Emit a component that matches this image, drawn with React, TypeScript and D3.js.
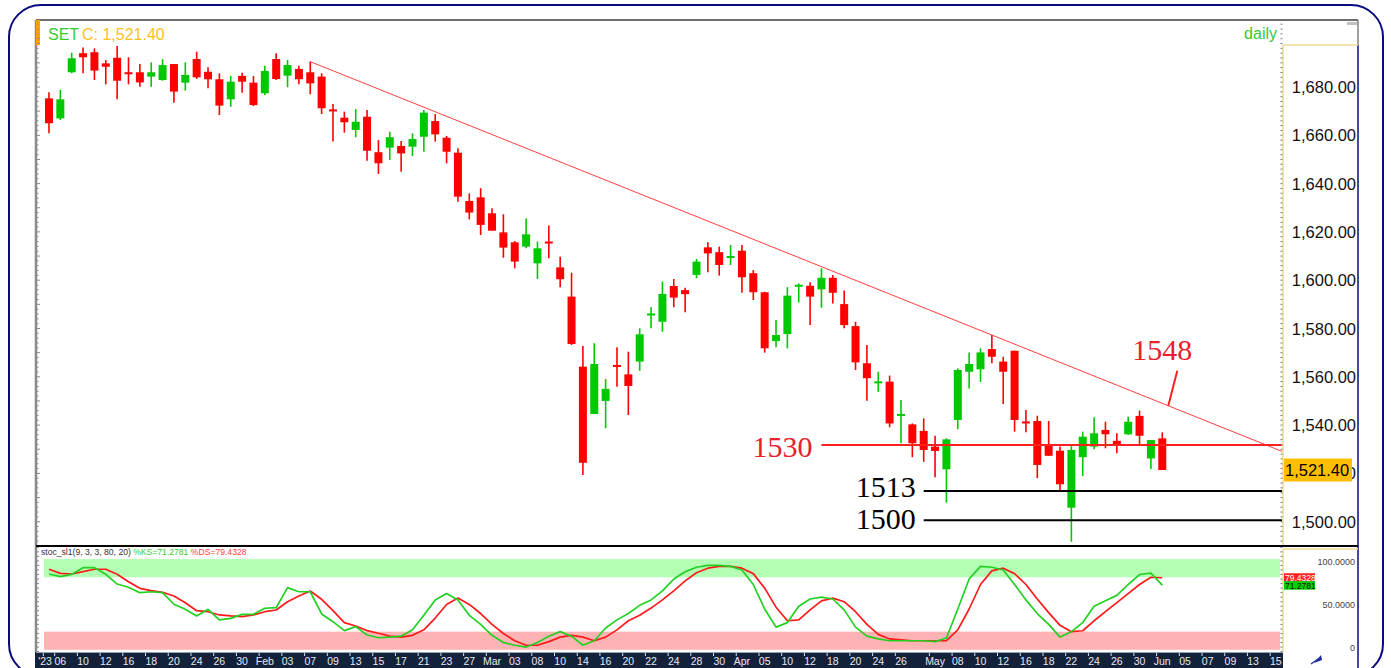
import React from "react";
import * as d3 from "d3";

// ---------- DATA ----------
const tradingDates: string[] = [
  "2023-01-05","2023-01-06","2023-01-09","2023-01-10","2023-01-11","2023-01-12","2023-01-13","2023-01-16","2023-01-17","2023-01-18",
  "2023-01-19","2023-01-20","2023-01-23","2023-01-24","2023-01-25","2023-01-26","2023-01-27","2023-01-30","2023-01-31",
  "2023-02-01","2023-02-02","2023-02-03","2023-02-06","2023-02-07","2023-02-08","2023-02-09","2023-02-10","2023-02-13","2023-02-14",
  "2023-02-15","2023-02-16","2023-02-17","2023-02-20","2023-02-21","2023-02-22","2023-02-23","2023-02-24","2023-02-27","2023-02-28",
  "2023-03-01","2023-03-02","2023-03-03","2023-03-07","2023-03-08","2023-03-09","2023-03-10","2023-03-13","2023-03-14","2023-03-15",
  "2023-03-16","2023-03-17","2023-03-20","2023-03-21","2023-03-22","2023-03-23","2023-03-24","2023-03-27","2023-03-28","2023-03-29",
  "2023-03-30","2023-03-31",
  "2023-04-03","2023-04-04","2023-04-05","2023-04-07","2023-04-10","2023-04-11","2023-04-12","2023-04-17","2023-04-18","2023-04-19",
  "2023-04-20","2023-04-21","2023-04-24","2023-04-25","2023-04-26","2023-04-27","2023-04-28",
  "2023-05-02","2023-05-03","2023-05-08","2023-05-09","2023-05-10","2023-05-11","2023-05-12","2023-05-15","2023-05-16","2023-05-17",
  "2023-05-18","2023-05-19","2023-05-22","2023-05-23","2023-05-24","2023-05-25","2023-05-26","2023-05-29","2023-05-30","2023-05-31",
  "2023-06-01","2023-06-02","2023-06-05","2023-06-06","2023-06-07","2023-06-08","2023-06-09","2023-06-12","2023-06-13","2023-06-14",
  "2023-06-15",
];

const opens: number[] = [
  1675.3,1667.0,1686.1,1694.0,1694.4,1689.8,1692.1,1685.7,1686.1,1684.3,
  1682.9,1689.5,1681.8,1691.6,1686.3,1683.2,1674.9,1684.6,1681.8,1677.4,
  1691.6,1684.7,1687.5,1686.1,1684.3,1670.3,1667.3,1662.2,1667.7,1653.0,
  1654.9,1655.6,1655.3,1659.4,1665.9,1659.0,1652.8,1632.8,1634.3,1627.7,
  1619.8,1615.7,1613.9,1607.0,1615.6,1605.3,1593.2,1564.2,1544.6,1550.0,
  1564.5,1561.0,1566.3,1585.6,1582.8,1597.6,1595.9,1602.2,1613.6,1611.6,
  1609.4,1612.2,1602.9,1595.0,1574.8,1577.7,1597.5,1597.7,1596.2,1601.0,
  1590.1,1581.0,1565.6,1557.5,1558.0,1544.0,1540.3,1537.6,1531.1,1521.7,
  1542.1,1562.1,1563.1,1571.5,1566.3,1570.8,1541.1,1541.7,1531.8,1529.4,
  1505.8,1526.7,1531.1,1538.0,1533.5,1536.2,1543.8,1526.2,1534.5,
];
const highs: number[] = [
  1677.8,1678.8,1694.2,1696.4,1696.0,1691.2,1697.0,1692.3,1689.5,1690.2,
  1691.5,1689.5,1690.2,1694.6,1688.2,1685.7,1684.6,1685.9,1684.6,1688.8,
  1694.0,1691.2,1688.8,1690.5,1685.7,1673.0,1669.8,1670.9,1670.5,1658.1,
  1661.5,1657.6,1660.8,1670.5,1668.8,1659.7,1654.6,1636.0,1638.1,1629.8,
  1627.3,1616.2,1625.6,1616.0,1622.6,1609.7,1603.1,1572.8,1573.9,1559.1,
  1572.2,1570.4,1580.1,1588.8,1599.4,1600.5,1596.9,1608.8,1615.7,1613.9,
  1614.6,1614.6,1604.2,1595.2,1583.5,1597.1,1598.7,1599.1,1604.9,1602.2,
  1595.7,1582.8,1573.2,1562.1,1560.5,1550.4,1540.7,1542.8,1535.6,1534.5,
  1563.5,1570.1,1571.8,1577.3,1568.3,1570.8,1546.3,1543.9,1541.7,1531.1,
  1531.3,1537.3,1543.2,1541.4,1536.6,1543.5,1546.0,1533.8,1537.0,
];
const lows: number[] = [
  1660.8,1666.3,1685.7,1685.7,1682.9,1681.1,1674.9,1681.1,1680.1,1680.1,
  1682.6,1673.5,1678.5,1683.3,1679.5,1668.4,1671.8,1677.6,1672.1,1676.7,
  1682.9,1679.9,1681.1,1677.0,1668.8,1657.4,1661.1,1659.2,1649.5,1644.0,
  1649.8,1644.9,1651.4,1653.2,1657.4,1648.4,1632.5,1625.2,1618.7,1620.5,
  1609.3,1604.9,1613.2,1600.5,1609.1,1597.1,1573.2,1519.3,1544.6,1538.7,
  1555.9,1544.2,1562.5,1580.1,1578.7,1588.8,1586.7,1600.8,1603.3,1601.9,
  1606.3,1594.8,1591.8,1570.0,1572.2,1571.8,1590.8,1581.4,1588.6,1590.4,
  1580.1,1562.8,1550.1,1553.8,1539.1,1532.5,1526.7,1524.8,1518.4,1507.9,
  1538.3,1555.2,1557.9,1565.6,1548.7,1537.3,1537.0,1518.0,1527.3,1513.1,
  1491.7,1518.9,1530.0,1530.4,1528.3,1535.9,1532.0,1521.8,1521.4,
];
const closes: number[] = [
  1665.0,1674.9,1691.9,1692.3,1686.8,1688.4,1682.6,1685.5,1681.9,1686.1,
  1689.1,1678.1,1685.0,1684.0,1683.2,1672.3,1682.2,1682.2,1672.5,1686.6,
  1683.3,1689.1,1683.2,1681.5,1671.2,1670.1,1665.4,1665.6,1653.6,1648.4,
  1659.2,1652.5,1658.5,1669.4,1660.4,1653.2,1634.6,1628.0,1622.9,1620.5,
  1613.5,1607.7,1619.0,1613.2,1615.4,1600.4,1573.6,1524.4,1565.3,1555.0,
  1564.3,1556.2,1577.6,1585.8,1594.3,1592.8,1594.2,1607.7,1611.1,1606.3,
  1609.6,1601.2,1595.0,1571.8,1577.3,1593.6,1597.7,1593.2,1601.0,1594.8,
  1581.4,1566.0,1559.4,1557.7,1540.7,1544.2,1532.5,1529.7,1529.3,1534.1,
  1562.8,1565.3,1570.1,1568.3,1562.1,1542.1,1541.0,1523.5,1527.3,1515.5,
  1529.7,1535.2,1536.6,1536.2,1531.8,1541.4,1535.6,1533.8,1521.4,
];

const stochK: number[] = [
  83.6,80.6,83.2,90.5,90.5,83.2,72.5,68.9,63.0,64.0,
  63.0,50.2,44.7,37.3,44.7,32.9,34.7,39.1,39.1,45.8,
  46.4,68.5,64.0,64.0,39.5,31.0,21.1,25.5,16.3,13.3,
  14,15,22,38,55,62,55,38,28,16,
  8,5,3,8,15,20,15,5,10,24,
  33,40,49,55,65,78,86,91,93,93,
  92,88,72,45,25,30,48,56,58,56,
  44,25,15,12,10,10,10,10,9,13,
  45,78,92,91,88,72,55,40,28,14,
  20,30,48,54,60,72,83,84.5,71.2781,
];
const stochD: number[] = [
  88.8,84.3,83.6,86.1,88.8,88.8,83.2,75.1,67.8,65.2,
  63.4,59.3,51.9,43.1,42.0,38.4,37.3,36.5,38.4,42.0,
  43.9,53.0,59.3,64.8,55.7,43.1,29.9,26.2,21.1,18.2,
  15,14,16,22,35,50,57,50,40,28,
  18,10,5,5,9,14,16,14,10,14,
  22,32,38,46,55,65,76,85,90,92,
  92,90,84,68,47,32,33,44,54,57,
  53,42,28,17,12,11,10,10,10,10,
  22,45,72,87,90,84,72,56,41,27,
  20,21,32,42,52,62,72,80,79.4328,
];

const priceTicks: number[] = [1500, 1520, 1540, 1560, 1580, 1600, 1620, 1640, 1660, 1680];
const stochTicks: number[] = [0, 50, 100];
const stochTickLabels: string[] = ["0", "50.0000", "100.0000"];
const stochBands: number[][] = [[80, 100], [0, 20]];

const tickDates: string[] = [
  "2023-01-05","2023-01-06","2023-01-10","2023-01-12","2023-01-16","2023-01-18","2023-01-20","2023-01-24","2023-01-26","2023-01-30",
  "2023-02-01","2023-02-03","2023-02-07","2023-02-09","2023-02-13","2023-02-15","2023-02-17","2023-02-21","2023-02-23","2023-02-27",
  "2023-03-01","2023-03-03","2023-03-08","2023-03-10","2023-03-14","2023-03-16","2023-03-20","2023-03-22","2023-03-24","2023-03-28","2023-03-30",
  "2023-04-03","2023-04-05","2023-04-10","2023-04-12","2023-04-18","2023-04-20","2023-04-24","2023-04-26",
  "2023-05-02","2023-05-08","2023-05-10","2023-05-12","2023-05-16","2023-05-18","2023-05-22","2023-05-24","2023-05-26","2023-05-30",
  "2023-06-01","2023-06-05","2023-06-07","2023-06-09","2023-06-13","2023-06-15",
];
const tickLabels: string[] = [
  "'23","06","10","12","16","18","20","24","26","30",
  "Feb","03","07","09","13","15","17","21","23","27",
  "Mar","03","08","10","14","16","20","22","24","28","30",
  "Apr","05","10","12","18","20","24","26",
  "May","08","10","12","16","18","22","24","26","30",
  "Jun","05","07","09","13","15",
];

// annotations (data coordinates)
const trendDates: string[] = ["2023-02-07", "2023-05-11"];
const trendValues: number[] = [1690.5, 1577.3];
const levelValues: number[] = [1531.8, 1512.7, 1500.6];
const levelLabels: string[] = ["1530", "1513", "1500"];
const levelStartDates: string[] = ["2023-04-17", "2023-04-28", "2023-04-28"];
const trendTargetValue = 1548;
const trendTargetLabel = "1548";

const symbol = "SET";
const lastClose = closes[closes.length - 1];
const lastK = stochK[stochK.length - 1];
const lastD = stochD[stochD.length - 1];

// ---------- LAYOUT ----------
const W = 1391, H = 668;
const FL = 36, FT = 20, FR = 1358;
const PR = 1282; // plot right edge
const MAIN_B = 545, STOCH_T = 547, STOCH_B = 652;
const AXIS_T = 45;
const SANS = "'Liberation Sans', Arial, sans-serif";
const NARROW = "'Liberation Sans Narrow', 'Arial Narrow', 'Liberation Sans', sans-serif";
const SERIF = "'Liberation Serif', 'Times New Roman', serif";
const RED = "#ff0000", GREEN = "#00c800";
const LEVEL_DY = [12, 5.5, 8.5];

const fmt = d3.format(",.2f");
const fmt4 = d3.format(".4f");

export default function App() {
  const n = tradingDates.length;
  const x = d3.scaleBand<number>().domain(d3.range(n)).range([43.3, 43.3 + 11.36 * n]);
  const bw = x.bandwidth();
  const cx = (i: number) => (x(i) as number) + bw / 2;
  const idx = (d: string) => tradingDates.indexOf(d);
  const y = d3.scaleLinear().domain([1500, 1680]).range([521.7, 87]);
  const ys = d3.scaleLinear().domain([0, 100]).range([649.8, 559.1]);
  const bodyW = 8;

  // trend
  const i1 = idx(trendDates[0]), i2 = idx(trendDates[1]);
  const slope = (trendValues[1] - trendValues[0]) / (i2 - i1);
  const iEnd = (PR - cx(0)) / x.step();
  const trendAt = (i: number) => trendValues[0] + (i - i1) * slope;
  const iTarget = i1 + (trendTargetValue - trendValues[0]) / slope;
  const pX = cx(0) + iTarget * x.step();
  const pY = y(trendTargetValue);

  const kLine = d3.line<number>().x((_, i) => cx(i)).y((d) => ys(d));

  const minorMain = d3.range(1492, 1708, 2);
  const minorStoch = d3.range(-2, 114, 5);

  return (
    <svg width={W} height={H} style={{ position: "absolute", left: 0, top: 0, background: "#fff" }}>
      <defs>
        <clipPath id="mainClip"><rect x={FL + 1} y={FT + 1} width={PR - FL - 1} height={MAIN_B - FT - 1} /></clipPath>
        <clipPath id="stochClip"><rect x={FL + 1} y={STOCH_T} width={PR - FL - 1} height={STOCH_B - STOCH_T} /></clipPath>
      </defs>
      <rect x={0} y={0} width={W} height={H} fill="#fff" />
      {/* outer rounded frame */}
      <rect x={9} y={5} width={1374} height={671} rx={32} ry={32} fill="none" stroke="#0a0a80" strokeWidth={2} />

      {/* stoch bands */}
      <g clipPath="url(#stochClip)">
        {stochBands.map((b, i) => (
          <rect key={i} x={44} width={PR - 2 - 44} y={ys(b[1])} height={ys(b[0]) - ys(b[1])} fill={i === 0 ? "#b3ffb3" : "#ffb3b3"} />
        ))}
        <path d={kLine(stochD) || ""} fill="none" stroke="#ff1a1a" strokeWidth={1.7} strokeLinejoin="round" />
        <path d={kLine(stochK) || ""} fill="none" stroke="#22d022" strokeWidth={1.7} strokeLinejoin="round" />
      </g>

      {/* candles */}
      <g clipPath="url(#mainClip)">
        {opens.map((o, i) => {
          const c = closes[i];
          const up = c >= o;
          const col = up ? GREEN : RED;
          const top = y(Math.max(o, c));
          const h = Math.max(Math.abs(y(o) - y(c)), 2);
          return (
            <g key={i}>
              <line x1={cx(i)} x2={cx(i)} y1={y(highs[i])} y2={y(lows[i])} stroke={col} strokeWidth={1.6} />
              <rect x={cx(i) - bodyW / 2} y={h === 2 ? top - 1 : top} width={bodyW} height={h} fill={col} />
            </g>
          );
        })}
        {/* trend line */}
        <line x1={cx(i1)} y1={y(trendValues[0])} x2={PR} y2={y(trendAt(iEnd))} stroke="#ff4040" strokeWidth={1} />
        {/* levels */}
        {levelValues.map((v, k) => (
          <line key={k} x1={cx(idx(levelStartDates[k]))} x2={PR} y1={y(v)} y2={y(v)} stroke={k === 0 ? "#ff2020" : "#000"} strokeWidth={2} />
        ))}
        {/* pointer */}
        <line x1={pX + 9} y1={pY - 35} x2={pX} y2={pY} stroke="#ff2020" strokeWidth={2} />
      </g>
      {/* level labels */}
      {levelValues.map((v, k) => (
        <text key={k} x={cx(idx(levelStartDates[k])) - (k === 0 ? 9 : 8)} y={y(v) + LEVEL_DY[k]} textAnchor="end" fontFamily={SERIF} fontSize={30} fill={k === 0 ? "#e8202a" : "#000"}>
          {levelLabels[k]}
        </text>
      ))}
      <text x={pX - 6} y={pY - 46} textAnchor="middle" fontFamily={SERIF} fontSize={30} fill="#e8202a">{trendTargetLabel}</text>

      {/* frame lines */}
      <line x1={FL} x2={FR} y1={FT} y2={FT} stroke="#6e6e6e" strokeWidth={2} />
      <line x1={FL} x2={FL} y1={FT} y2={STOCH_B} stroke="#8a8a8a" strokeWidth={2.5} />
      <rect x={FL} y={FT} width={4} height={25} fill="#ffa000" />
      <line x1={FR} x2={FR} y1={FT} y2={AXIS_T} stroke="#808080" strokeWidth={1.5} />
      <line x1={FR} x2={FR} y1={AXIS_T} y2={668} stroke="#0a0a80" strokeWidth={1.5} />
      <rect x={1347} y={22} width={10} height={3} fill="#c0c0c0" />

      {/* left minor ticks */}
      {minorMain.map((v) => (
        <line key={"lm" + v} x1={FL + 1} x2={FL + (v % 10 === 0 ? 4 : 2.5)} y1={y(v)} y2={y(v)} stroke="#888" strokeWidth={1} />
      ))}
      {minorStoch.map((v) => (
        <line key={"ls" + v} x1={FL + 1} x2={FL + 3} y1={ys(v)} y2={ys(v)} stroke="#888" strokeWidth={1} />
      ))}

      {/* right axis panel */}
      <line x1={PR + 1} x2={FR} y1={AXIS_T} y2={AXIS_T} stroke="#f0d890" strokeWidth={1.5} />
      <line x1={PR + 1} x2={PR + 1} y1={AXIS_T} y2={MAIN_B} stroke="#f0d890" strokeWidth={1.5} />
      <line x1={PR + 1} x2={FR} y1={STOCH_T + 2} y2={STOCH_T + 2} stroke="#f0d890" strokeWidth={1.5} />
      <line x1={PR + 1} x2={PR + 1} y1={STOCH_T + 2} y2={STOCH_B} stroke="#f0d890" strokeWidth={1.5} />
      {minorMain.map((v) => (
        <line key={"rm" + v} x1={PR - 1.5} x2={PR + 0.5} y1={y(v)} y2={y(v)} stroke="#777" strokeWidth={1} />
      ))}
      {minorStoch.map((v) => (
        <line key={"rs" + v} x1={PR - 1.5} x2={PR + 0.5} y1={ys(v)} y2={ys(v)} stroke="#777" strokeWidth={1} />
      ))}
      {priceTicks.map((v) => (
        <text key={v} x={1356} y={y(v) + 6} textAnchor="end" fontFamily={SANS} fontSize={16.5} fill="#111">{fmt(v)}</text>
      ))}
      <rect x={1284} y={y(lastClose) - 11.5} width={68} height={23} fill="#ffbf00" />
      <text x={1285} y={y(lastClose) + 6} fontFamily={SANS} fontSize={16.5} fill="#000">{fmt(lastClose)}</text>

      {/* pane separator */}
      <line x1={FL} x2={FR} y1={MAIN_B + 1} y2={MAIN_B + 1} stroke="#000" strokeWidth={2} />

      {/* stoch axis */}
      {stochTicks.map((v, k) => (
        <text key={v} x={1355} y={ys(v) + (v === 100 ? 6 : v === 0 ? 1 : 3.5)} textAnchor="end" fontFamily={SANS} fontSize={9} fill="#444">{stochTickLabels[k]}</text>
      ))}
      <rect x={1284} y={ys(lastD) - 4.5} width={31} height={8.5} fill="#ff2020" />
      <text x={1285} y={ys(lastD) + 3.2} fontFamily={SANS} fontSize={8.5} fill="#fff">{fmt4(lastD)}</text>
      <rect x={1284} y={ys(lastK) - 4} width={31} height={8.5} fill="#00d000" />
      <text x={1285} y={ys(lastK) + 3.7} fontFamily={SANS} fontSize={8.5} fill="#111">{fmt4(lastK)}</text>

      {/* stoch title */}
      <text x={41} y={555} fontFamily={SANS} fontSize={8.6} fill="#333">
        stoc_sl1(9, 3, 3, 80, 20) <tspan fill="#33cc33">%KS={fmt4(lastK)}</tspan> <tspan fill="#ff4040">%DS={fmt4(lastD)}</tspan>
      </text>

      {/* x axis band */}
      <rect x={FL - 1} y={STOCH_B} width={PR + 1 - FL + 1} height={H - STOCH_B} fill="#14213a" />
      <line x1={FL} x2={PR + 1} y1={STOCH_B + 0.5} y2={STOCH_B + 0.5} stroke="#9aa3b5" strokeWidth={1} />
      {tickDates.map((d, k) => {
        const i = idx(d);
        return (
          <g key={d}>
            <line x1={x(i) as number} x2={x(i) as number} y1={STOCH_B + 1} y2={STOCH_B + 4} stroke="#dde" strokeWidth={1} />
            <text x={k === 0 ? 45 : cx(i)} y={665} textAnchor="middle" fontFamily={NARROW} fontSize={10.5} fill="#e6e8f0">{tickLabels[k]}</text>
          </g>
        );
      })}
      {/* corner icon */}
      <path d="M1314,663 L1321,655 L1322,660 Z" fill="#1a2a9a" />
      <line x1={1311} x2={1318} y1={664} y2={659} stroke="#1a2a9a" strokeWidth={1.2} />

      {/* titles */}
      <text x={48} y={39.5} fontFamily={SANS} fontSize={16} fill="#33cc33">{symbol}</text>
      <text x={82} y={39.5} fontFamily={SANS} fontSize={16} fill="#ffbf20">C: {fmt(lastClose)}</text>
      <text x={1277} y={39} textAnchor="end" fontFamily={SANS} fontSize={16} fill="#33cc33">daily</text>
    </svg>
  );
}
